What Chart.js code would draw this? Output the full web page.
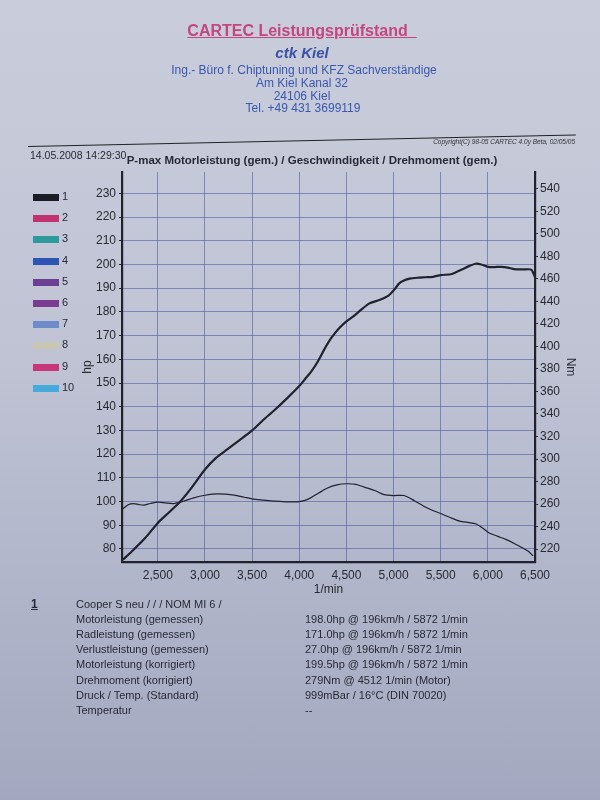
<!DOCTYPE html>
<html>
<head>
<meta charset="utf-8">
<script src="https://cdn.jsdelivr.net/npm/chart.js@4.4.0/dist/chart.umd.min.js"></script>
<style>
  html, body { margin: 0; padding: 0; }
  body {
    width: 600px; height: 800px; position: relative; overflow: hidden;
    background: linear-gradient(180deg, #c9cddb 0%, #bfc3d4 45%, #a3a8c0 100%);
    font-family: "Liberation Sans", Arial, sans-serif; color: #2a2a35;
  }
  #sheet { position: absolute; left: 0; top: 0; }
  .t { position: absolute; white-space: nowrap; }
  .c { transform: translateX(-50%); }
  #head1 { left: 302px; top: 22px; font-size: 16px; font-weight: bold; color: #c4467e;
           text-decoration: underline; }
  #head2 { left: 302px; top: 44px; font-size: 15px; font-weight: bold; font-style: italic; color: #3a52a8; }
  .addr { font-size: 12px; color: #3a58b0; }
  #rule { position: absolute; left: 28px; top: 146px; width: 548px; height: 0;
          border-top: 1.6px solid #222; transform: rotate(-1.2deg); transform-origin: left; }
  #copy { right: 25px; top: 138px; font-size: 6.5px; font-style: italic; color: #333; }
  #stamp { left: 30px; top: 149px; font-size: 10.5px; }
  #ctitle { left: 312px; top: 154px; font-size: 11.5px; font-weight: bold; }
  .leg { position: absolute; left: 33px; width: 26px; height: 7px; }
  .legn { position: absolute; left: 62px; font-size: 11px; }
  .row { position: absolute; font-size: 11px; }
</style>
</head>
<body>
<canvas id="sheet" width="600" height="800"></canvas>

<div class="t c" id="head1">CARTEC Leistungsprüfstand&nbsp;&nbsp;</div>
<div class="t c" id="head2">ctk Kiel</div>
<div class="t c addr" style="left:304px;top:63px">Ing.- Büro f. Chiptuning und KFZ Sachverständige</div>
<div class="t c addr" style="left:302px;top:76px">Am Kiel Kanal 32</div>
<div class="t c addr" style="left:302px;top:89px">24106 Kiel</div>
<div class="t c addr" style="left:303px;top:101px">Tel. +49 431 3699119</div>
<div id="rule"></div>
<div class="t" id="copy">Copyright(C) 98-05 CARTEC 4.0y Beta, 02/05/05</div>
<div class="t" id="stamp">14.05.2008 14:29:30</div>
<div class="t c" id="ctitle">P-max Motorleistung (gem.) / Geschwindigkeit / Drehmoment (gem.)</div>
<div id="legend"></div>
<div id="summary"></div>

<script>
"use strict";

// run legend (only run 1 has data)
const runLabels = ["1", "2", "3", "4", "5", "6", "7", "8", "9", "10"];
const runColors = ["#1c1c26", "#c0336e", "#2e9a9c", "#2f55b4", "#6b3f94", "#7a3c8e",
                   "#6f8cca", "#c9c6b4", "#c63678", "#44abdc"];

// rpm axis
const rpmTicks = [2500, 3000, 3500, 4000, 4500, 5000, 5500, 6000, 6500];
const hpTicks = [80, 90, 100, 110, 120, 130, 140, 150, 160, 170, 180, 190, 200, 210, 220, 230];
const nmTicks = [220, 240, 260, 280, 300, 320, 340, 360, 380, 400, 420, 440, 460, 480, 500, 520, 540];

// Motorleistung (hp) read from the sheet
const powerRpm = [2130, 2243, 2366, 2500, 2620, 2736, 2842, 3000, 3120, 3236, 3370, 3500, 3620,
                  3736, 3870, 4000, 4060, 4130, 4200, 4270, 4340, 4420, 4500, 4570, 4630, 4740,
                  4850, 4950, 5010, 5060, 5110, 5170, 5250, 5340, 5420, 5500, 5620, 5730, 5800,
                  5870, 5930, 6000, 6070, 6140, 6210, 6280, 6380, 6460, 6500];
const powerHp = [75.5, 79.7, 84.6, 91, 95.5, 99.9, 105, 113.5, 118.5, 122, 126, 130, 134.5,
                 138.5, 143.5, 148.7, 151.6, 155, 159.3, 164.5, 169, 173, 176, 178, 180, 183.5,
                 185, 187, 189.5, 192, 193.2, 194, 194.4, 194.6, 194.8, 195.5, 196, 198, 199.3,
                 200.3, 200, 199, 198.9, 199, 198.7, 198, 197.9, 197.8, 194.6];

// Drehmoment (Nm)
const torqueRpm = [2130, 2190, 2243, 2300, 2350, 2420, 2500, 2580, 2665, 2770, 2880, 3000, 3130,
                   3310, 3420, 3500, 3620, 3736, 3860, 3980, 4050, 4120, 4210, 4300, 4400, 4500,
                   4600, 4690, 4800, 4900, 5000, 5110, 5220, 5320, 5410, 5500, 5600, 5700, 5800,
                   5870, 5940, 6010, 6100, 6190, 6280, 6360, 6430, 6480];
const torqueNm = [255.8, 259.6, 260.4, 259.5, 259, 260.5, 261.7, 261, 260.4, 262.5, 265.5, 267.8, 269,
                  268, 266, 264.6, 263.5, 262.5, 262, 261.9, 263, 265.5, 270, 274.3, 277, 278,
                  277.5, 275, 272, 268.4, 267.5, 267.6, 263, 258, 254.5, 251.6, 248, 244.8, 243.5,
                  242.5, 239, 234.5, 231.5, 228.6, 225, 221.3, 218, 213.9];

const summaryLabels = ["Cooper S neu /  /  / NOM MI 6 /", "Motorleistung (gemessen)",
                       "Radleistung (gemessen)", "Verlustleistung (gemessen)",
                       "Motorleistung (korrigiert)", "Drehmoment (korrigiert)",
                       "Druck / Temp. (Standard)", "Temperatur"];
const summaryValues = ["", "198.0hp @ 196km/h / 5872 1/min", "171.0hp @ 196km/h / 5872 1/min",
                       "27.0hp @ 196km/h / 5872 1/min", "199.5hp @ 196km/h / 5872 1/min",
                       "279Nm @ 4512 1/min (Motor)", "999mBar / 16°C  (DIN 70020)", "--"];

(function() {
    let legend = document.getElementById("legend");
    runLabels.forEach(function(lbl, i) {
        let y = 194 + i * 21.2;
        legend.innerHTML += `<div class="leg" style="top:${y}px;background:${runColors[i]}"></div>` +
            `<div class="legn" style="top:${y - 4}px">${lbl}</div>`;
    });

    let summary = document.getElementById("summary");
    summary.innerHTML = '<div class="row" style="left:31px;top:597px;font-size:12px;font-weight:bold;text-decoration:underline">1</div>';
    summaryLabels.forEach(function(lbl, i) {
        let y = 598 + i * 15.1;
        summary.innerHTML += `<div class="row" style="left:76px;top:${y}px">${lbl}</div>` +
            `<div class="row" style="left:305px;top:${y}px">${summaryValues[i]}</div>`;
    });

    const ink = "#22222e";
    const gridBlue = "rgba(80, 92, 160, 0.6)";
    const tickFont = { family: "'Liberation Sans', Arial, sans-serif", size: 12 };

    function xy(xs, ys) {
        return xs.map(function(x, i) { return { x: x, y: ys[i] }; });
    }

    new Chart(document.getElementById("sheet"), {
        type: "line",
        data: {
            datasets: [{
                label: "Motorleistung",
                data: xy(powerRpm, powerHp),
                yAxisID: "y",
                borderColor: ink,
                borderWidth: 2.2,
                pointRadius: 0,
                tension: 0.25,
            }, {
                label: "Drehmoment",
                data: xy(torqueRpm, torqueNm),
                yAxisID: "y1",
                borderColor: ink,
                borderWidth: 1.2,
                pointRadius: 0,
                tension: 0.25,
            }],
        },
        options: {
            responsive: false,
            animation: false,
            layout: { padding: { left: 80, top: 172, right: 22, bottom: 203 } },
            plugins: { legend: { display: false }, tooltip: { enabled: false } },
            scales: {
                x: {
                    type: "linear",
                    min: 2120,
                    max: 6500,
                    afterBuildTicks: function(s) { s.ticks = rpmTicks.map(function(v) { return { value: v }; }); },
                    afterFit: function(s) { s.height = 35; },
                    grid: { color: gridBlue, lineWidth: 1, drawTicks: false },
                    border: { color: ink, width: 2.2 },
                    ticks: { color: "#2a2a30", font: tickFont, padding: 6, maxRotation: 0 },
                    title: { display: true, text: "1/min", color: "#2a2a30", font: tickFont, padding: 0 },
                },
                y: {
                    position: "left",
                    min: 74.5,
                    max: 239,
                    afterBuildTicks: function(s) { s.ticks = hpTicks.map(function(v) { return { value: v }; }); },
                    afterFit: function(s) { s.width = 42; },
                    grid: { color: gridBlue, lineWidth: 1, tickLength: 3, tickColor: ink },
                    border: { color: ink, width: 2.2 },
                    ticks: { color: "#2a2a30", font: tickFont, padding: 3 },
                    title: { display: true, text: "hp", color: "#2a2a30", font: tickFont, padding: 0 },
                },
                y1: {
                    position: "right",
                    min: 208.5,
                    max: 555,
                    afterBuildTicks: function(s) { s.ticks = nmTicks.map(function(v) { return { value: v }; }); },
                    afterFit: function(s) { s.width = 43; },
                    grid: { drawOnChartArea: false, tickLength: 3, tickColor: ink },
                    border: { color: ink, width: 2.2 },
                    ticks: { color: "#2a2a30", font: tickFont, padding: 2 },
                    title: { display: true, text: "Nm", color: "#2a2a30", font: tickFont, padding: 0 },
                },
            },
        },
    });
})();
</script>
</body>
</html>
